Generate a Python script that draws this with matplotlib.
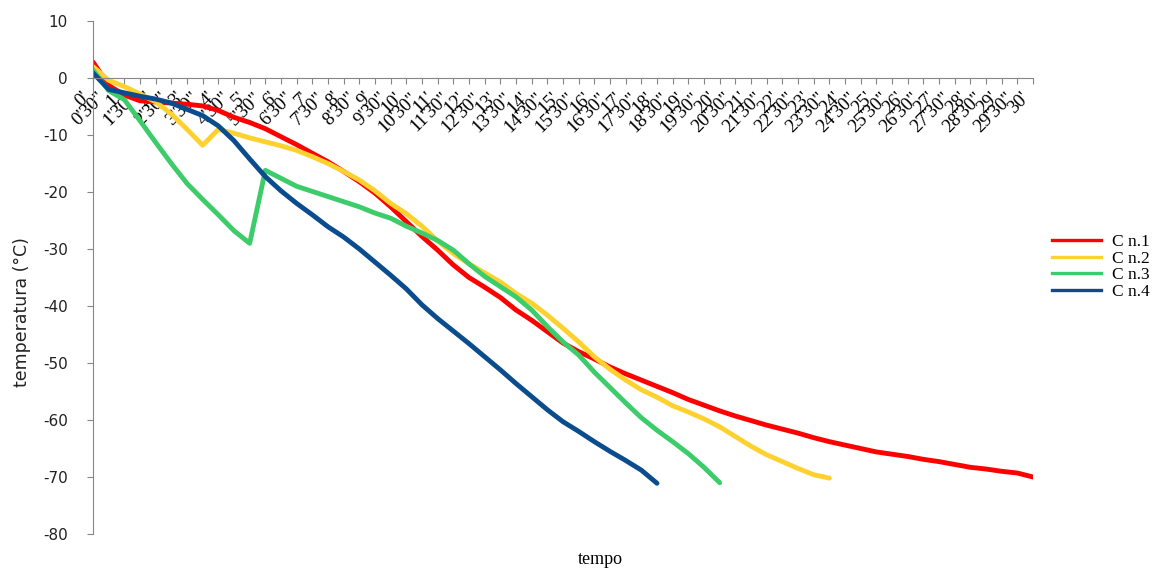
import matplotlib
matplotlib.use("Agg")
import matplotlib.pyplot as plt
import numpy as np

plt.rcParams["axes.unicode_minus"] = False

# ---- data ----
tick_labels = []
for i in range(61):
    m = i // 2
    tick_labels.append(f"{m}'" if i % 2 == 0 else f"{m}'30\"")

cn1 = [2.8, -1.3, -3.0, -4.0, -4.2, -4.4, -4.6, -4.9, -5.7, -6.9, -7.8, -8.9, -10.3,
       -11.7, -13.2, -14.7, -16.4, -18.2, -20.2, -22.6, -25.2, -27.8, -30.2, -32.8,
       -35.0, -36.7, -38.5, -40.7, -42.5, -44.5, -46.5, -48.0, -49.3, -50.7, -51.9,
       -53.0, -54.1, -55.2, -56.4, -57.4, -58.4, -59.3, -60.1, -60.9, -61.6, -62.3,
       -63.1, -63.8, -64.4, -65.0, -65.6, -66.0, -66.4, -66.9, -67.3, -67.8, -68.3,
       -68.6, -69.0, -69.3, -70.0]
cn2 = [2.0, -0.4, -1.5, -2.8, -4.2, -6.3, -9.0, -11.8, -9.0, -9.7, -10.5, -11.2, -11.9,
       -12.7, -13.8, -15.0, -16.4, -17.9, -19.8, -22.0, -23.8, -26.0, -28.6, -30.8,
       -32.6, -34.2, -35.8, -37.8, -39.5, -41.6, -43.9, -46.3, -48.9, -51.1, -53.0,
       -54.7, -56.0, -57.5, -58.6, -59.8, -61.2, -62.9, -64.6, -66.1, -67.3, -68.5,
       -69.6, -70.2]
cn3 = [1.4, -2.2, -3.8, -7.5, -11.3, -15.0, -18.5, -21.3, -24.0, -26.8, -29.0, -16.2,
       -17.6, -19.0, -19.9, -20.8, -21.7, -22.6, -23.7, -24.6, -26.0, -27.2, -28.5,
       -30.2, -32.6, -34.8, -36.6, -38.4, -40.7, -43.6, -46.3, -48.6, -51.6, -54.3,
       -57.0, -59.6, -61.8, -63.8, -65.9, -68.3, -71.0]
cn4 = [0.9, -2.0, -2.6, -3.2, -3.7, -4.4, -5.5, -6.6, -8.4, -11.0, -14.2, -17.3, -19.8,
       -22.0, -24.0, -26.1, -27.9, -30.0, -32.3, -34.6, -37.0, -39.8, -42.2, -44.4,
       -46.6, -48.9, -51.2, -53.6, -55.9, -58.2, -60.3, -62.0, -63.8, -65.5, -67.1,
       -68.8, -71.1]

series_names = ["C n.1", "C n.2", "C n.3", "C n.4"]
series_vals = [cn1, cn2, cn3, cn4]
colors = ["#FF0000", "#FFD12E", "#3DCC6A", "#0B4C8E"]

# ---- figure ----
W, H = 1160, 569
fig = plt.figure(figsize=(W / 100, H / 100), dpi=100)
ax = fig.add_axes([93 / W, 1 - 534 / H, (1033 - 93) / W, (534 - 21) / H])

grey = "#868686"
ax.spines["top"].set_visible(False)
ax.spines["right"].set_visible(False)
ax.spines["bottom"].set_position(("data", 0))
ax.spines["bottom"].set_color(grey)
ax.spines["left"].set_color(grey)

for name, vals, c in zip(series_names, series_vals, colors):
    x = np.arange(len(vals))
    ax.plot(x, vals, color=c, lw=3.5, solid_capstyle="round",
            solid_joinstyle="round", label=name)

ax.set_xlim(0, 60)
ax.set_ylim(-80, 10)
ax.set_yticks(np.arange(-80, 11, 10))
ax.set_xticks(np.arange(61))
ax.set_xticklabels(tick_labels, rotation=45, ha="right", va="top",
                   rotation_mode="default",
                   fontfamily="Liberation Serif", fontsize=13.5)
ax.set_yticklabels([str(v) for v in np.arange(-80, 11, 10)],
                   fontfamily="DejaVu Sans", fontsize=11, color="#222222")

ax.tick_params(axis="x", direction="out", length=4, color=grey, pad=4)
ax.tick_params(axis="y", direction="out", length=4, color=grey, pad=14)

fig.text(22 / W, 1 - 312 / H, "temperatura (°C)", rotation=90, ha="center",
         va="center", fontfamily="DejaVu Sans", fontsize=12.5, color="#222222")
fig.text(600 / W, 1 - 560 / H, "tempo", ha="center", va="center",
         fontfamily="Liberation Serif", fontsize=13)

leg_lines = [plt.Line2D([], [], color=c, lw=2.4) for c in colors]
fig.legend(leg_lines, series_names, loc="center left",
           bbox_to_anchor=(1052 / W, 1 - 267 / H), frameon=False,
           prop={"family": "Liberation Serif", "size": 12.5},
           handlelength=2.8, handletextpad=0.65, labelspacing=0.02,
           borderaxespad=0, borderpad=0)

fig.savefig("out.png", dpi=100)
